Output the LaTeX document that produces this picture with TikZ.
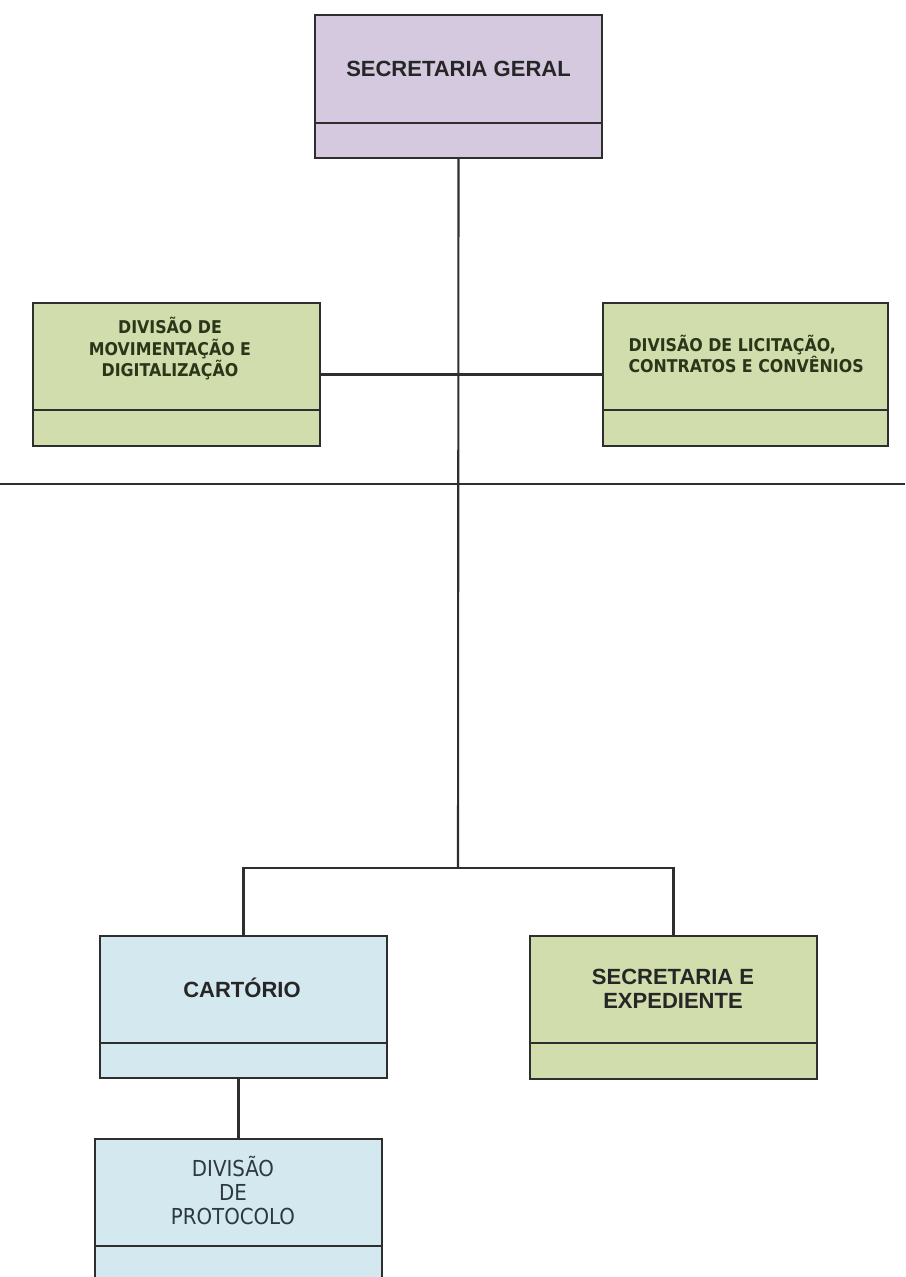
\documentclass[tikz,border=0pt]{standalone}
\usepackage{fontspec}
\setmainfont{Liberation Sans}
\newfontfamily\lcdfont{DejaVu Sans Condensed}
\usetikzlibrary{calc}

\definecolor{lilac}{HTML}{D4C9DF}
\definecolor{sage}{HTML}{D2DDAE}
\definecolor{pale}{HTML}{D3E8EF}
\definecolor{ink}{HTML}{2E2E2E}
\definecolor{olive}{HTML}{2A3618}
\definecolor{slate}{HTML}{2C3A40}

\tikzset{
  unitbox/.style={draw=ink, line width=1.8pt, minimum width=287, minimum height=143,
    inner sep=0pt, outer sep=0pt},
  wire/.style={draw=ink, line width=2.1pt},
  arialtxt/.style={font=\fontsize{22}{24}\selectfont\bfseries, text=black!85, align=center},
  lcdtxt/.style={font=\lcdfont\bfseries\fontsize{17.6}{21.5}\selectfont, text=olive},
  prottxt/.style={font=\lcdfont\fontsize{22}{24}\selectfont, text=slate, align=center},
}

\begin{document}
\begin{tikzpicture}[x=1pt, y=-1pt]
  \path[use as bounding box] (0,0) rectangle (905,1277);
  \clip (0,0) rectangle (905,1277);

  % boxes
  \node[unitbox, fill=lilac] (sg) at (458.5,86.5) {};
  \node[unitbox, fill=sage] (dm) at (176.5,374.5) {};
  \node[unitbox, fill=sage, minimum width=285] (dl) at (745.5,374.5) {};
  \node[unitbox, fill=pale, minimum height=142] (ca) at (243.5,1007) {};
  \node[unitbox, fill=sage] (se) at (673.5,1007.5) {};
  \node[unitbox, fill=pale, minimum height=161] (dp) at (238.5,1219.5) {};

  % lower compartments
  \foreach \b/\h in {sg/35, dm/36, dl/36, ca/35, se/36} {
    \draw[ink, line width=1.8pt] ($(\b.south west)+(0,-\h)$) -- ($(\b.south east)+(0,-\h)$);
  }
  \draw[ink, line width=1.8pt] ($(dp.north west)+(0,107)$) -- ($(dp.north east)+(0,107)$);

  % labels
  \node[arialtxt] (tsg) at (458.5,69) {SECRETARIA GERAL};
  \node[lcdtxt, align=center] (tdm) at (170,349) {DIVISÃO DE\\MOVIMENTAÇÃO E\\DIGITALIZAÇÃO};
  \node[lcdtxt, align=left, anchor=west] (tdl) at (625,354) {DIVISÃO DE LICITAÇÃO,\\CONTRATOS E CONVÊNIOS};
  \node[arialtxt] (tca) at (242,988) {CARTÓRIO};
  \node[arialtxt] (tse) at (673,989) {SECRETARIA E\\EXPEDIENTE};
  \node[prottxt] (tdp) at (233,1191) {DIVISÃO\\DE\\PROTOCOLO};

  % connectors
  \coordinate (j2) at (458,868);
  \coordinate (rl) at (0,484);
  \coordinate (rr) at (905,484);
  \draw[wire] (sg.south) -- (j2);
  \draw[wire] (dm.east) -- (dl.west);
  \draw[wire] (rl) -- (rr);
  \draw[wire] (ca.north) |- (j2) -| (se.north);
  \draw[wire] (dp.north) -- (dp.north |- ca.south);
\end{tikzpicture}
\end{document}
